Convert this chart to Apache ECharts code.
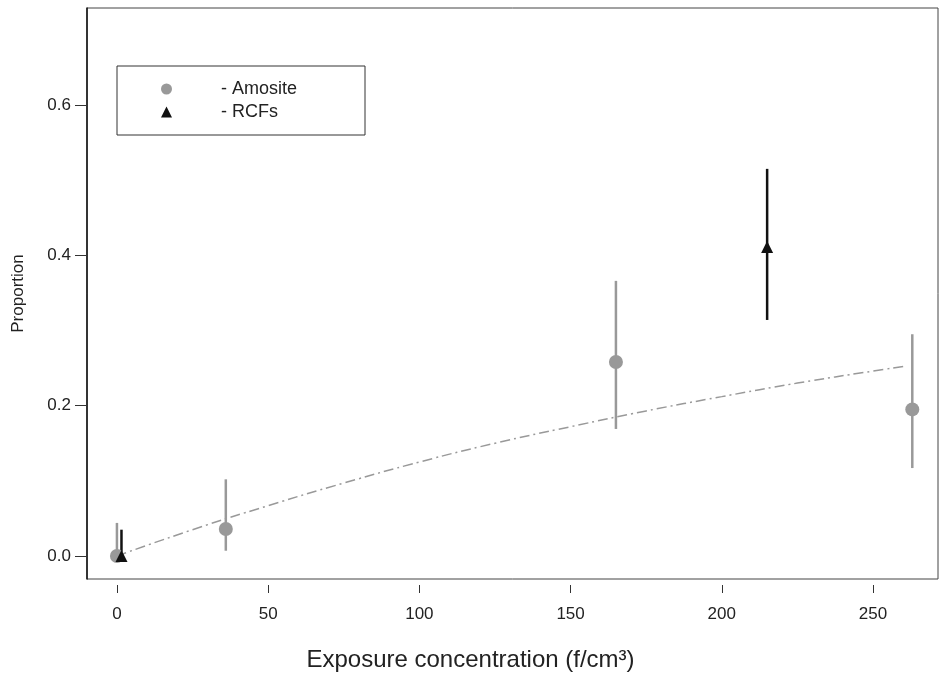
<!DOCTYPE html>
<html>
<head>
<meta charset="utf-8">
<script src="https://cdn.jsdelivr.net/npm/echarts@6/dist/echarts.min.js"></script>
<style>
  html, body { margin: 0; padding: 0; background: #fff; }
  #chart { width: 940px; height: 674px; }
</style>
</head>
<body>
<div id="chart"></div>
<script>
// Amosite points with error bars
const amositeX = [0, 36, 165, 263]
const amositeY = [0.0, 0.036, 0.258, 0.195]
const amositeLo = [0.0, 0.007, 0.169, 0.117]
const amositeHi = [0.044, 0.102, 0.366, 0.295]

// RCF points with error bars
const rcfX = [1.5, 215]
const rcfY = [0.0, 0.411]
const rcfLo = [0.0, 0.314]
const rcfHi = [0.035, 0.515]

// fitted curve (dash-dot)
const fitX = [0, 25, 50, 75, 100, 125, 150, 175, 200, 225, 250, 260]
const fitY = [0, 0.035, 0.067, 0.097, 0.125, 0.150, 0.172, 0.193, 0.212, 0.230, 0.246, 0.252]

const xTicks = [0, 50, 100, 150, 200, 250]
const yTicks = [0, 0.2, 0.4, 0.6]

const font = 'Liberation Sans, Arial, sans-serif'

function errData(xs, lo, hi) {
    return xs.map((x, i) => [x, lo[i], hi[i]])
}

function errRender(color) {
    return function (params, api) {
        let p1 = api.coord([api.value(0), api.value(1)])
        let p2 = api.coord([api.value(0), api.value(2)])
        return {
            type: 'line',
            shape: { x1: p1[0], y1: p1[1], x2: p2[0], y2: p2[1] },
            style: { stroke: color, lineWidth: 2.5 }
        }
    }
}

let myChart = echarts.init(document.getElementById('chart'))
myChart.setOption({
    animation: false,
    textStyle: { fontFamily: font },
    grid: {
        left: 87, right: 2, top: 8, bottom: 95,
        outerBoundsMode: 'none',
        show: true, borderColor: '#444', borderWidth: 1
    },
    legend: {
        data: ['Amosite', 'RCFs'],
        orient: 'vertical',
        left: 117, top: 66,
        padding: [14, 0, 14, 44],
        itemGap: 5,
        itemWidth: 11, itemHeight: 11,
        borderColor: '#333', borderWidth: 1,
        formatter: name => '- ' + name,
        textStyle: {
            fontSize: 18, color: '#222', fontFamily: font,
            width: 100, padding: [0, 44, 0, 44], lineHeight: 18
        }
    },
    xAxis: {
        type: 'value',
        min: -9.9, max: 271.5,
        offset: 6,
        axisLine: { show: false, onZero: false },
        splitLine: { show: false },
        axisTick: { show: true, length: 8, customValues: xTicks, lineStyle: { color: '#333' } },
        axisLabel: { customValues: xTicks, margin: 21, fontSize: 17, color: '#222', fontFamily: font },
        name: 'Exposure concentration (f/cm³)',
        nameLocation: 'middle',
        nameGap: 63,
        nameTextStyle: { fontSize: 24, color: '#222', fontFamily: font, padding: [0, 84, 0, 0] }
    },
    yAxis: {
        type: 'value',
        min: -0.0306, max: 0.729,
        axisLine: { show: true, onZero: false, lineStyle: { color: '#111', width: 1.5 } },
        splitLine: { show: false },
        axisTick: { show: true, length: 12, customValues: yTicks, lineStyle: { color: '#333' } },
        axisLabel: {
            customValues: yTicks, margin: 16, fontSize: 17, color: '#222', fontFamily: font,
            formatter: v => v.toFixed(1)
        },
        name: 'Proportion',
        nameLocation: 'middle',
        nameGap: 60,
        nameTextStyle: { fontSize: 17, color: '#222', fontFamily: font }
    },
    series: [
        {
            name: 'fit',
            type: 'line',
            data: fitX.map((x, i) => [x, fitY[i]]),
            smooth: true,
            showSymbol: false,
            lineStyle: { color: '#999', width: 1.5, type: [10, 4, 2, 4] },
            z: 1
        },
        {
            name: 'Amosite err',
            type: 'custom',
            renderItem: errRender('#999'),
            data: errData(amositeX, amositeLo, amositeHi),
            encode: { x: 0, y: [1, 2] },
            z: 2
        },
        {
            name: 'RCFs err',
            type: 'custom',
            renderItem: errRender('#111'),
            data: errData(rcfX, rcfLo, rcfHi),
            encode: { x: 0, y: [1, 2] },
            z: 3
        },
        {
            name: 'Amosite',
            type: 'scatter',
            symbol: 'circle',
            symbolSize: 14,
            itemStyle: { color: '#999', opacity: 1 },
            data: amositeX.map((x, i) => [x, amositeY[i]]),
            z: 4
        },
        {
            name: 'RCFs',
            type: 'scatter',
            symbol: 'triangle',
            symbolSize: 12,
            itemStyle: { color: '#111', opacity: 1 },
            data: rcfX.map((x, i) => [x, rcfY[i]]),
            z: 5
        }
    ]
})
</script>
</body>
</html>
